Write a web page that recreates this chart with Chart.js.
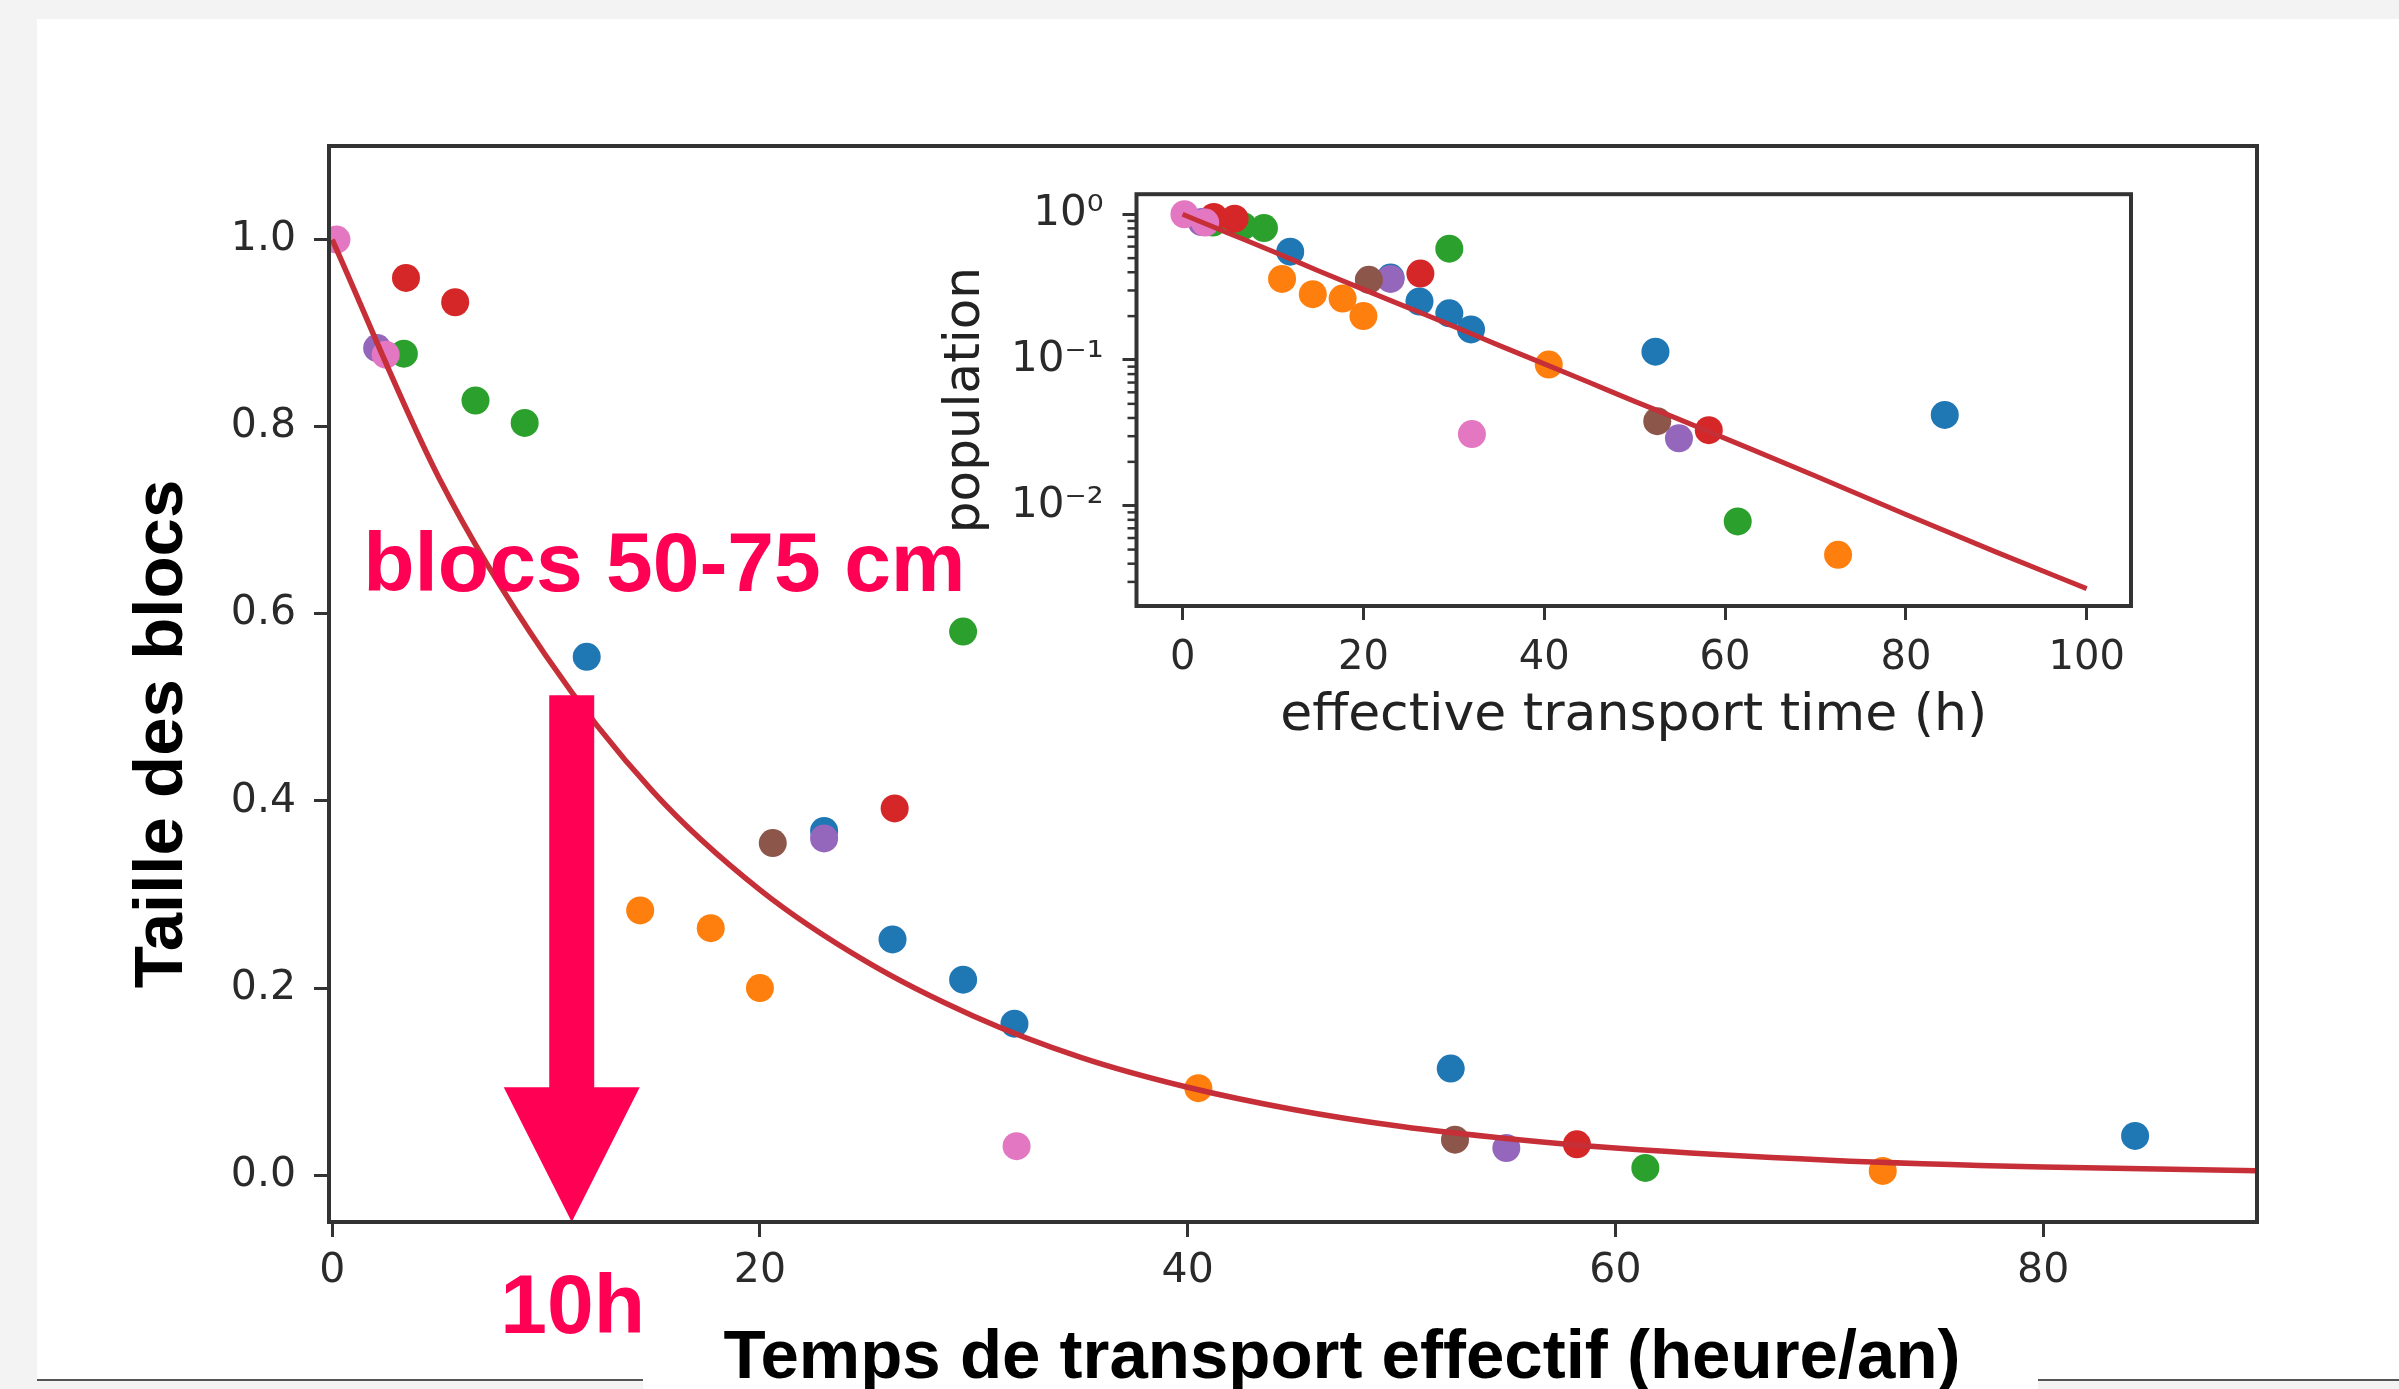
<!DOCTYPE html>
<html><head><meta charset="utf-8">
<script src="https://cdn.jsdelivr.net/npm/chart.js@4.4.0/dist/chart.umd.min.js"></script>
<style>
html,body{margin:0;padding:0;width:2399px;height:1389px;overflow:hidden;background:#f3f3f3;}
#panel{position:absolute;left:37px;top:19px;width:2362px;height:1361px;background:#fff;}
.line{position:absolute;height:2px;background:#555;top:1379px;}
#titlebox{position:absolute;left:643px;top:1370px;width:1395px;height:19px;background:#fff;}
#main{position:absolute;left:0;top:0;}
#inset{position:absolute;left:880px;top:150px;}
</style></head>
<body>
<div id="panel"></div>
<div class="line" style="left:37px;width:606px"></div>
<div class="line" style="left:2038px;width:361px"></div>
<div id="titlebox"></div>
<canvas id="main" width="2399" height="1389"></canvas>
<canvas id="inset" width="1300" height="640"></canvas>
<script>
// ---------- data ----------
const blueX   = [11.9, 23.0, 26.2, 29.5, 31.9, 52.3, 84.3];
const blueY   = [0.554, 0.368, 0.252, 0.209, 0.162, 0.114, 0.042];
const orangeX = [11.0, 14.4, 17.7, 20.0, 40.5, 72.5];
const orangeY = [0.360, 0.283, 0.264, 0.200, 0.093, 0.0046];
const greenX  = [3.35, 6.7, 9.0, 29.5, 61.4];
const greenY  = [0.878, 0.828, 0.804, 0.581, 0.0078];
const redX    = [3.45, 5.75, 26.3, 58.2];
const redY    = [0.959, 0.933, 0.392, 0.033];
const purpleX = [2.1, 23.0, 54.9];
const purpleY = [0.884, 0.360, 0.029];
const brownX  = [20.6, 52.5];
const brownY  = [0.355, 0.038];
const pinkX   = [0.2, 2.5, 32.0];
const pinkY   = [1.0, 0.877, 0.031];

// fitted decay curve
const fitX = [0, 5, 10, 15, 20, 25, 30, 35, 40, 45, 50, 55, 60, 70, 80, 90, 100];
const fitY = [1.0, 0.745, 0.555, 0.41, 0.305, 0.228, 0.17, 0.126, 0.094, 0.070, 0.052, 0.039, 0.029, 0.016, 0.0087, 0.0048, 0.0027];

// axes
const mainXTicks = [0, 20, 40, 60, 80];
const mainYTicks = [0.0, 0.2, 0.4, 0.6, 0.8, 1.0];
const insetXTicks = [0, 20, 40, 60, 80, 100];
const insetYTicks = [1, 0.1, 0.01];
const insetYLabels = ['10\u2070', '10\u207B\u00B9', '10\u207B\u00B2'];
const insetYMinor = [0.9,0.8,0.7,0.6,0.5,0.4,0.3,0.2,0.09,0.08,0.07,0.06,0.05,0.04,0.03,0.02,0.009,0.008,0.007,0.006,0.005,0.004,0.003,0.002];

// texts
const mainXTitle = 'Temps de transport effectif (heure/an)';
const mainYTitle = 'Taille des blocs';
const insetXTitle = 'effective transport time (h)';
const insetYTitle = 'population';
const noteText = 'blocs 50-75 cm';
const arrowText = '10h';
// annotation anchor (data units)
const arrowX = 11.2, arrowTopY = 0.513, arrowHeadY = 0.094, arrowTipY = -0.05;
const noteX = 1.45, noteY = 0.624;
const arrowTextY = -0.169;

const seriesColors = {
  blue:'#1f77b4', orange:'#ff7f0e', green:'#2ca02c', red:'#d62728',
  purple:'#9467bd', brown:'#8c564b', pink:'#e377c2'
};
const accent = '#ff0055';
const fitColor = '#c62f37';

const pts = (xs, ys) => xs.map((v, i) => ({x: v, y: ys[i]}));
const seriesList = [
  ['blue', blueX, blueY], ['orange', orangeX, orangeY], ['green', greenX, greenY],
  ['red', redX, redY], ['purple', purpleX, purpleY], ['brown', brownX, brownY], ['pink', pinkX, pinkY]
];

function buildDatasets(radius, lineWidth) {
  const ds = [{
    type: 'line', label: 'fit', data: pts(fitX, fitY), borderColor: fitColor,
    borderWidth: lineWidth, pointRadius: 0, showLine: true, fill: false,
    cubicInterpolationMode: 'monotone', order: 0
  }];
  seriesList.forEach(([name, xs, ys], i) => {
    ds.push({
      type: 'scatter', label: name, data: pts(xs, ys),
      backgroundColor: seriesColors[name], borderColor: seriesColors[name],
      borderWidth: 0, pointRadius: radius, pointHoverRadius: radius,
      order: seriesList.length - i
    });
  });
  return ds;
}

Chart.defaults.font.family = "'DejaVu Sans', sans-serif";
Chart.defaults.color = '#2a2a2a';

const tickGrid = (len) => ({display: true, drawOnChartArea: false, drawTicks: true,
  tickLength: len, tickWidth: 3, tickColor: '#333'});

// ---------- main chart ----------
const mainOverlay = {
  id: 'mainOverlay',
  afterDatasetsDraw(chart) {
    const {ctx, chartArea: a, scales: {x, y}} = chart;
    ctx.save();
    // arrow
    const ax = x.getPixelForValue(arrowX);
    const top = y.getPixelForValue(arrowTopY);
    const hy = y.getPixelForValue(arrowHeadY);
    const tip = y.getPixelForValue(arrowTipY);
    ctx.fillStyle = accent;
    ctx.beginPath();
    ctx.moveTo(ax - 22.5, top); ctx.lineTo(ax + 22.5, top); ctx.lineTo(ax + 22.5, hy);
    ctx.lineTo(ax + 68, hy); ctx.lineTo(ax, tip); ctx.lineTo(ax - 68, hy);
    ctx.lineTo(ax - 22.5, hy); ctx.closePath(); ctx.fill();
    // frame
    ctx.strokeStyle = '#333'; ctx.lineWidth = 4;
    ctx.strokeRect(a.left, a.top, a.right - a.left, a.bottom - a.top);
    // annotation texts
    ctx.font = "bold 84px 'Liberation Sans', Arial, sans-serif";
    ctx.textBaseline = 'alphabetic';
    ctx.textAlign = 'left';
    ctx.fillText(noteText, x.getPixelForValue(noteX), y.getPixelForValue(noteY));
    ctx.textAlign = 'center';
    ctx.fillText(arrowText, ax + 1, y.getPixelForValue(arrowTextY));
    // axis titles
    ctx.fillStyle = '#000';
    ctx.font = "bold 69px 'Liberation Sans', Arial, sans-serif";
    ctx.textAlign = 'center';
    ctx.fillText(mainXTitle, 1342, 1378);
    ctx.translate(182, 734);
    ctx.rotate(-Math.PI / 2);
    ctx.fillText(mainYTitle, 0, 0);
    ctx.restore();
  }
};

new Chart(document.getElementById('main'), {
  type: 'scatter',
  data: {datasets: buildDatasets(14, 5.5)},
  options: {
    responsive: false, animation: false, devicePixelRatio: 1,
    layout: {padding: {left: 0, top: 146, right: 142, bottom: 0}},
    plugins: {legend: {display: false}, tooltip: {enabled: false}},
    scales: {
      x: {
        type: 'linear', min: -0.15, max: 90,
        afterBuildTicks: s => { s.ticks = mainXTicks.map(v => ({value: v})); },
        afterFit: s => { s.height = 167; },
        grid: tickGrid(15), border: {display: false},
        ticks: {font: {size: 41}, color: '#2a2a2a', padding: 10, callback: v => String(v)}
      },
      y: {
        type: 'linear', min: -0.05, max: 1.1,
        afterBuildTicks: s => { s.ticks = mainYTicks.map(v => ({value: v})); },
        afterFit: s => { s.width = 329; },
        grid: tickGrid(15), border: {display: false},
        ticks: {font: {size: 41}, color: '#2a2a2a', padding: 18, callback: v => Number(v).toFixed(1)}
      }
    }
  },
  plugins: [mainOverlay]
});

// ---------- inset chart ----------
const insetOverlay = {
  id: 'insetOverlay',
  afterDatasetsDraw(chart) {
    const {ctx, chartArea: a, scales: {y}} = chart;
    ctx.save();
    ctx.strokeStyle = '#333'; ctx.lineWidth = 2.5;
    insetYMinor.forEach(v => {
      const py = y.getPixelForValue(v);
      if (py < a.top || py > a.bottom) return;
      ctx.beginPath(); ctx.moveTo(a.left - 9, py); ctx.lineTo(a.left, py); ctx.stroke();
    });
    ctx.lineWidth = 4;
    ctx.strokeRect(a.left, a.top, a.right - a.left, a.bottom - a.top);
    ctx.restore();
  }
};

new Chart(document.getElementById('inset'), {
  type: 'scatter',
  data: {datasets: buildDatasets(14, 5)},
  options: {
    responsive: false, animation: false, devicePixelRatio: 1,
    layout: {padding: {left: 0, top: 37, right: 49, bottom: 0}},
    plugins: {legend: {display: false}, tooltip: {enabled: false}},
    scales: {
      x: {
        type: 'linear', min: -5.1, max: 104.9,
        afterBuildTicks: s => { s.ticks = insetXTicks.map(v => ({value: v})); },
        afterFit: s => { s.height = 184; },
        grid: tickGrid(14), border: {display: false},
        ticks: {font: {size: 40}, color: '#2a2a2a', padding: 15, callback: v => String(v)},
        title: {display: true, text: insetXTitle, color: '#222', font: {size: 52}, padding: {top: 0, bottom: 42}}
      },
      y: {
        type: 'logarithmic', min: 0.00205, max: 1.373,
        afterBuildTicks: s => { s.ticks = insetYTicks.map(v => ({value: v})); },
        afterFit: s => { s.width = 256.5; },
        grid: tickGrid(14), border: {display: false},
        ticks: {font: {size: 42}, color: '#2a2a2a', padding: 19,
          callback: v => { const i = insetYTicks.findIndex(t => Math.abs(t - v) < 1e-9); return i >= 0 ? insetYLabels[i] : ''; }},
        title: {display: true, text: insetYTitle, color: '#222', font: {size: 50}, padding: {top: 56, bottom: 0}}
      }
    }
  },
  plugins: [insetOverlay]
});
</script>
</body></html>
